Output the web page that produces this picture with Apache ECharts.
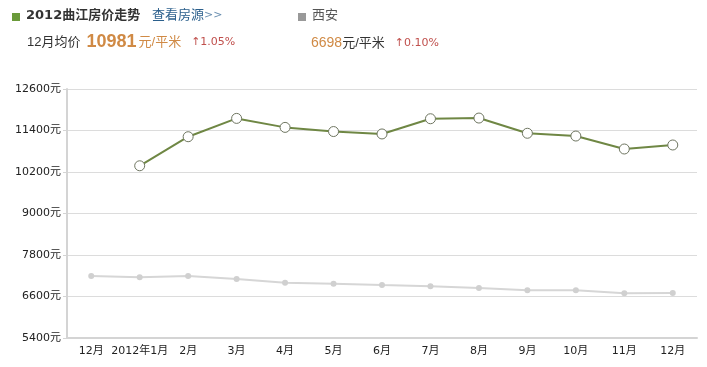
<!DOCTYPE html>
<html><head><meta charset="utf-8">
<script src="https://cdn.jsdelivr.net/npm/echarts@6/dist/echarts.min.js"></script>
<style>html,body{margin:0;padding:0;background:#fff}#c{width:707px;height:367px}</style>
</head><body><div id="c"></div>
<script>
const categories = ['12月','2012年1月','2月','3月','4月','5月','6月','7月','8月','9月','10月','11月','12月'];
const qujiang = [null,10380,11220,11750,11490,11370,11300,11740,11760,11320,11240,10865,10981];
const xian = [7190,7155,7190,7105,7000,6970,6930,6895,6845,6780,6778,6692,6698];
const yTicks = {min:5400,max:12600,interval:1200};

const chart = echarts.init(document.getElementById('c'));
const font = '"DejaVu Sans","Noto Sans CJK SC",sans-serif';
const lib = '"Liberation Sans","Noto Sans CJK SC",sans-serif';
chart.setOption({
  backgroundColor:'#fff',
  animation:false,
  graphic:[
    {type:'rect',shape:{x:12,y:13,width:8,height:8},style:{fill:'#6a9a3a'}},
    {type:'text',left:26,top:9,style:{text:'2012曲江房价走势',font:'bold 13px '+font,fill:'#333'}},
    {type:'text',left:152,top:9,style:{rich:{a:{font:'13px '+font,fill:'#2b5f8c'},b:{font:'11px '+font,fill:'#6a8fb0'}},text:'{a|查看房源}{b|>>}'}},
    {type:'rect',shape:{x:298,y:13,width:8,height:8},style:{fill:'#999'}},
    {type:'text',left:312,top:9,style:{text:'西安',font:'13px '+font,fill:'#555'}},
    {type:'text',left:27,top:33,style:{rich:{
      a:{font:'13px '+lib,fill:'#333',padding:[0,6,0,0]},
      b:{font:'bold 18px '+lib,fill:'#d08a45',padding:[0,2,0,0]},
      c:{font:'13px '+lib,fill:'#d08a45',padding:[0,10,0,0]},
      d:{font:'11px '+font,fill:'#c0504d'}
    },text:'{a|12月均价}{b|10981}{c|元/平米}{d|↑1.05%}'}},
    {type:'text',left:311,top:36,style:{rich:{
      b:{font:'14px '+lib,fill:'#d08a45'},
      c:{font:'13px '+lib,fill:'#333',padding:[0,10,0,0]},
      d:{font:'11px '+font,fill:'#c0504d'}
    },text:'{b|6698}{c|元/平米}{d|↑0.10%}'}}
  ],
  grid:{left:67,right:10,top:89,bottom:29,containLabel:false},
  xAxis:{type:'category',data:categories,boundaryGap:true,
    axisLine:{lineStyle:{color:'#d4d4d4',width:2}},
    axisTick:{alignWithLabel:true,length:4,lineStyle:{color:'#d4d4d4'}},
    axisLabel:{color:'#222',fontSize:11,fontFamily:font,margin:8,interval:0}},
  yAxis:{type:'value',min:yTicks.min,max:yTicks.max,interval:yTicks.interval,
    axisLine:{show:true,lineStyle:{color:'#d4d4d4',width:2}},
    axisTick:{show:true,length:4,lineStyle:{color:'#d4d4d4'}},
    splitLine:{lineStyle:{color:'#dcdcdc'}},
    axisLabel:{color:'#222',fontSize:11,fontFamily:font,margin:6,formatter:v=>String(v)+'元'}},
  series:[
    {type:'line',data:xian,symbol:'circle',symbolSize:6,
      lineStyle:{color:'#d6d6d6',width:2},itemStyle:{color:'#d0d0d0'},z:2},
    {type:'line',data:qujiang,symbol:'circle',symbolSize:10,connectNulls:false,
      lineStyle:{color:'#6f8744',width:2},
      itemStyle:{color:'#fff',borderColor:'#6e7560',borderWidth:1},z:3}
  ]
});
</script></body></html>
